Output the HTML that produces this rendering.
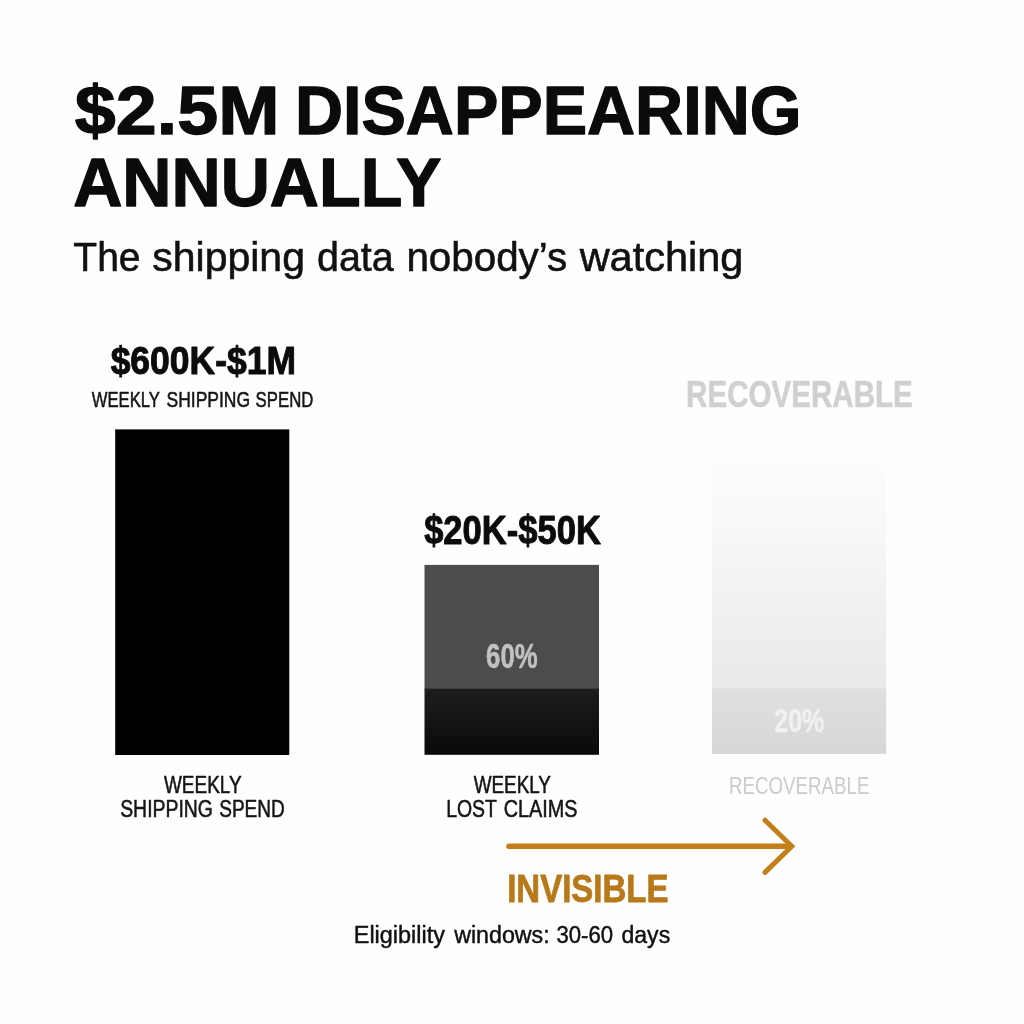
<!DOCTYPE html>
<html lang="en">
<head>
<meta charset="utf-8">
<title>$2.5M Disappearing Annually</title>
<style>
html,body{margin:0;padding:0;background:#fefefe;}
body{width:1024px;height:1024px;overflow:hidden;font-family:"Liberation Sans",sans-serif;}
svg{display:block;}
text{font-family:"Liberation Sans",sans-serif;stroke-linejoin:round;}
</style>
</head>
<body>
<svg width="1024" height="1024" viewBox="0 0 1024 1024" role="img" aria-label="Bar chart: weekly shipping spend, weekly lost claims, recoverable">
<defs>
<linearGradient id="g2" x1="0" y1="0" x2="0" y2="1"><stop offset="0" stop-color="#1d1d1d"/><stop offset="1" stop-color="#0a0a0a"/></linearGradient>
<linearGradient id="g3" x1="0" y1="0" x2="0" y2="1"><stop offset="0" stop-color="#fefefe"/><stop offset="0.12" stop-color="#fdfdfd"/><stop offset="0.38" stop-color="#f8f8f8"/><stop offset="1" stop-color="#e9e9e9"/></linearGradient>
<linearGradient id="g4" x1="0" y1="0" x2="0" y2="1"><stop offset="0" stop-color="#e0e0e0"/><stop offset="1" stop-color="#d7d7d7"/></linearGradient>
</defs>
<rect width="1024" height="1024" fill="#fefefe"/>
<!-- bar 1 -->
<rect x="115.2" y="429.4" width="174.1" height="325.6" fill="#000"/>
<!-- bar 2 -->
<rect x="424.5" y="564.9" width="174.5" height="124" fill="#4c4c4c"/>
<rect x="424.5" y="688.5" width="174.5" height="66.3" fill="url(#g2)"/>
<!-- bar 3 -->
<rect x="712" y="424" width="174.2" height="265" fill="url(#g3)"/>
<rect x="712" y="688.6" width="174.2" height="65.4" fill="url(#g4)"/>
<!-- arrow -->
<g fill="none" stroke="#c3801a" stroke-width="5.6" stroke-linecap="round" stroke-linejoin="round">
<path d="M509 846.3H790"/>
<path d="M765 820.2L791.8 846.3L765 872.4" stroke-width="5" stroke-linejoin="miter"/>
</g>
<text y="133.85" font-size="69.33" font-weight="700" fill="#0b0b0b" stroke="#0b0b0b" stroke-width="1.3"><tspan x="74.88" textLength="204.60" lengthAdjust="spacingAndGlyphs">$2.5M</tspan> <tspan x="294.90" textLength="506.58" lengthAdjust="spacingAndGlyphs">DISAPPEARING</tspan></text>
<text x="73.15" y="206.25" font-size="68.60" font-weight="700" fill="#0b0b0b" stroke="#0b0b0b" stroke-width="1.3" textLength="368.29" lengthAdjust="spacingAndGlyphs">ANNUALLY</text>
<text y="271.30" font-size="41.42" font-weight="400" fill="#111" stroke="#111" stroke-width="0.6"><tspan x="73.32" textLength="67.21" lengthAdjust="spacingAndGlyphs">The</tspan> <tspan x="152.36" textLength="152.58" lengthAdjust="spacingAndGlyphs">shipping</tspan> <tspan x="317.05" textLength="76.65" lengthAdjust="spacingAndGlyphs">data</tspan> <tspan x="406.42" textLength="160.74" lengthAdjust="spacingAndGlyphs">nobody’s</tspan> <tspan x="579.66" textLength="163.71" lengthAdjust="spacingAndGlyphs">watching</tspan></text>
<text x="110.63" y="374.10" font-size="39.68" font-weight="700" fill="#0b0b0b" stroke="#0b0b0b" stroke-width="1.0" textLength="185.34" lengthAdjust="spacingAndGlyphs">$600K-$1M</text>
<text y="407.12" font-size="21.73" font-weight="400" fill="#151515" stroke="#151515" stroke-width="0.55"><tspan x="91.80" textLength="67.79" lengthAdjust="spacingAndGlyphs">WEEKLY</tspan> <tspan x="166.48" textLength="83.65" lengthAdjust="spacingAndGlyphs">SHIPPING</tspan> <tspan x="255.61" textLength="57.71" lengthAdjust="spacingAndGlyphs">SPEND</tspan></text>
<text x="424.14" y="544.00" font-size="40.12" font-weight="700" fill="#0b0b0b" stroke="#0b0b0b" stroke-width="1.0" textLength="176.78" lengthAdjust="spacingAndGlyphs">$20K-$50K</text>
<text x="486.11" y="667.95" font-size="34.16" font-weight="700" fill="#c1c1c1" stroke="#c1c1c1" stroke-width="0.5" textLength="51.52" lengthAdjust="spacingAndGlyphs">60%</text>
<text x="686.12" y="406.70" font-size="37.21" font-weight="700" fill="#d0d0d0" stroke="#d0d0d0" stroke-width="0.6" textLength="226.73" lengthAdjust="spacingAndGlyphs">RECOVERABLE</text>
<text x="774.18" y="732.25" font-size="32.70" font-weight="700" fill="#f0f0f0" stroke="#f0f0f0" stroke-width="0.5" textLength="50.23" lengthAdjust="spacingAndGlyphs">20%</text>
<text x="729.07" y="793.60" font-size="24.27" font-weight="400" fill="#cbcbcb" textLength="140.34" lengthAdjust="spacingAndGlyphs">RECOVERABLE</text>
<text x="163.99" y="793.02" font-size="23.47" font-weight="400" fill="#151515" stroke="#151515" stroke-width="0.55" textLength="77.55" lengthAdjust="spacingAndGlyphs">WEEKLY</text>
<text y="817.12" font-size="23.91" font-weight="400" fill="#151515" stroke="#151515" stroke-width="0.55"><tspan x="120.19" textLength="92.68" lengthAdjust="spacingAndGlyphs">SHIPPING</tspan> <tspan x="219.21" textLength="65.63" lengthAdjust="spacingAndGlyphs">SPEND</tspan></text>
<text x="473.69" y="793.02" font-size="23.47" font-weight="400" fill="#151515" stroke="#151515" stroke-width="0.55" textLength="77.25" lengthAdjust="spacingAndGlyphs">WEEKLY</text>
<text y="817.12" font-size="23.91" font-weight="400" fill="#151515" stroke="#151515" stroke-width="0.55"><tspan x="446.19" textLength="50.37" lengthAdjust="spacingAndGlyphs">LOST</tspan> <tspan x="503.67" textLength="73.77" lengthAdjust="spacingAndGlyphs">CLAIMS</tspan></text>
<text x="507.19" y="901.60" font-size="38.52" font-weight="700" fill="#b8791a" stroke="#b8791a" stroke-width="0.8" textLength="161.30" lengthAdjust="spacingAndGlyphs">INVISIBLE</text>
<text y="943.38" font-size="23.33" font-weight="400" fill="#111" stroke="#111" stroke-width="0.45"><tspan x="353.80" textLength="91.12" lengthAdjust="spacingAndGlyphs">Eligibility</tspan> <tspan x="454.16" textLength="95.54" lengthAdjust="spacingAndGlyphs">windows:</tspan> <tspan x="556.48" textLength="56.66" lengthAdjust="spacingAndGlyphs">30-60</tspan> <tspan x="621.46" textLength="48.75" lengthAdjust="spacingAndGlyphs">days</tspan></text>
</svg>
</body>
</html>
